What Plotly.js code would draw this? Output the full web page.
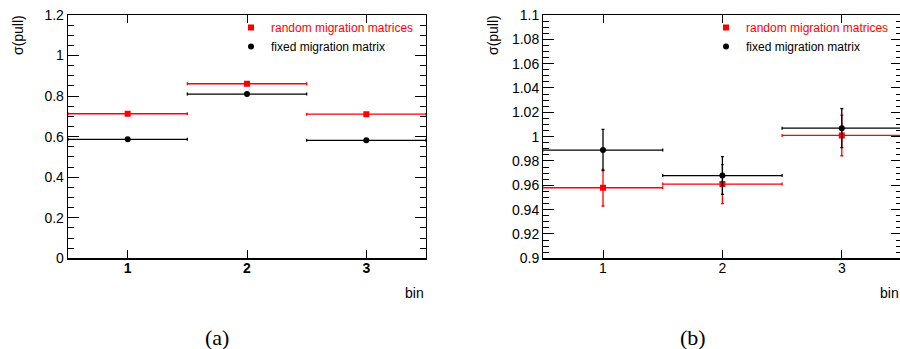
<!DOCTYPE html>
<html>
<head>
<meta charset="utf-8">
<script src="https://cdn.plot.ly/plotly-3.0.1.min.js"></script>
<style>
html,body{margin:0;padding:0;overflow:hidden;background:#fff;}
#chart{width:910px;height:349px;}
</style>
</head>
<body>
<div id="chart"></div>
<script>
// ---- data ----
const bins = [1, 2, 3];
const binHalfWidth = [0.5, 0.5, 0.5];
const seriesNames = ['random migration matrices', 'fixed migration matrix'];

// panel (a)
const aRandom = [0.713, 0.861, 0.711];
const aRandomErr = [0.003, 0.004, 0.003];
const aFixed = [0.587, 0.810, 0.582];
const aFixedErr = [0.002, 0.002, 0.002];

// panel (b)
const bRandom = [0.958, 0.961, 1.001];
const bRandomErr = [0.015, 0.016, 0.0167];
const bFixed = [0.989, 0.968, 1.007];
const bFixedErr = [0.017, 0.0155, 0.016];

// tick labels
const xTickVals = [1, 2, 3];
const xTickTextA = ['<b>1</b>', '<b>2</b>', '<b>3</b>'];
const xTickTextB = ['1', '2', '3'];
const yTickValsA = [0, 0.2, 0.4, 0.6, 0.8, 1, 1.2];
const yTickTextA = ['0', '0.2', '0.4', '0.6', '0.8', '1', '1.2'];
const yTickValsB = [0.9, 0.92, 0.94, 0.96, 0.98, 1, 1.02, 1.04, 1.06, 1.08, 1.1];
const yTickTextB = ['0.9', '0.92', '0.94', '0.96', '0.98', '1', '1.02', '1.04', '1.06', '1.08', '1.1'];

// ---- styles ----
const RED = '#ff0000', BLK = '#000000';
const W = 910, H = 349;
const FONT = 'Liberation Sans, Arial, Helvetica, sans-serif';

function series(x, y, ey, name, color, symbol, xa, ya, legend, showleg) {
  return {
    type: 'scatter', mode: 'markers', x: x, y: y, name: name,
    xaxis: xa, yaxis: ya, legend: legend, showlegend: showleg,
    marker: {color: color, symbol: symbol, size: 6},
    error_y: {type: 'data', array: ey, visible: true, color: color, thickness: 1.3, width: 1.5},
    error_x: {type: 'data', array: binHalfWidth, visible: true, color: color, thickness: 1.3, width: 1.5},
    hoverinfo: 'skip'
  };
}

const redName = '<span style="color:#ff0000">' + seriesNames[0] + '</span>';
const blkName = seriesNames[1];

const traces = [
  series(bins, aRandom, aRandomErr, redName, RED, 'square', 'x', 'y', 'legend', true),
  series(bins, aFixed, aFixedErr, blkName, BLK, 'circle', 'x', 'y', 'legend', true),
  series(bins, bRandom, bRandomErr, redName, RED, 'square', 'x2', 'y2', 'legend2', true),
  series(bins, bFixed, bFixedErr, blkName, BLK, 'circle', 'x2', 'y2', 'legend2', true)
];

function xaxis(domain, ticktext, anchor) {
  return {
    domain: domain, anchor: anchor, range: [0.5, 3.5],
    tickvals: xTickVals, ticktext: ticktext,
    ticks: 'inside', ticklen: 8, tickwidth: 1, tickcolor: BLK,
    showline: true, linecolor: BLK, linewidth: 1.3, mirror: 'allticks',
    showgrid: false, zeroline: false,
    tickfont: {family: FONT, size: 14, color: BLK},
    ticklabelstandoff: -3
  };
}
function yaxis(domain, range, tv, tt, minorDt, anchor) {
  return {
    domain: domain, anchor: anchor, range: range,
    tickvals: tv, ticktext: tt,
    ticks: 'inside', ticklen: 11, tickwidth: 1, tickcolor: BLK,
    minor: {dtick: minorDt, ticks: 'inside', ticklen: 6, tickwidth: 1, tickcolor: BLK, showgrid: false},
    showline: true, linecolor: BLK, linewidth: 1.3, mirror: 'allticks',
    showgrid: false, zeroline: false,
    tickfont: {family: FONT, size: 14, color: BLK},
    ticklabelstandoff: 0
  };
}

const yDom = [(H - 258.3) / H, (H - 15) / H];

function ann(text, xpx, ypx, opts) {
  return Object.assign({
    text: text, xref: 'paper', yref: 'paper', x: xpx / W, y: 1 - ypx / H,
    showarrow: false, xanchor: 'center', yanchor: 'middle',
    font: {family: FONT, size: 14, color: BLK}
  }, opts || {});
}

const layout = {
  width: W, height: H,
  margin: {l: 0, r: 0, t: 0, b: 0, pad: 0},
  paper_bgcolor: '#fff', plot_bgcolor: '#fff',
  showlegend: true,
  xaxis: xaxis([68 / W, 426 / W], xTickTextA, 'y'),
  yaxis: yaxis(yDom, [0, 1.2], yTickValsA, yTickTextA, 0.05, 'x'),
  xaxis2: xaxis([543.3 / W, 901.5 / W], xTickTextB, 'y2'),
  yaxis2: yaxis(yDom, [0.9, 1.1], yTickValsB, yTickTextB, 0.005, 'x2'),
  legend: {
    x: 231 / W, y: 1 - 13 / H, xanchor: 'left', yanchor: 'top',
    bgcolor: 'rgba(0,0,0,0)', borderwidth: 0, itemwidth: 30,
    font: {family: FONT, size: 12, color: BLK}, tracegroupgap: 0
  },
  legend2: {
    x: 706 / W, y: 1 - 13 / H, xanchor: 'left', yanchor: 'top',
    bgcolor: 'rgba(0,0,0,0)', borderwidth: 0, itemwidth: 30,
    font: {family: FONT, size: 12, color: BLK}, tracegroupgap: 0
  },
  annotations: [
    ann('σ(pull)', 18, 35, {textangle: -90}),
    ann('σ(pull)', 493, 35, {textangle: -90}),
    ann('bin', 426, 293, {xanchor: 'right'}),
    ann('bin', 878, 293, {xanchor: 'left'}),
    ann('(a)', 217, 337, {font: {family: 'Liberation Serif, Times New Roman, serif', size: 22, color: BLK}}),
    ann('(b)', 693, 337, {font: {family: 'Liberation Serif, Times New Roman, serif', size: 22, color: BLK}})
  ]
};

Plotly.newPlot('chart', traces, layout, {staticPlot: true, displayModeBar: false});
</script>
</body>
</html>
